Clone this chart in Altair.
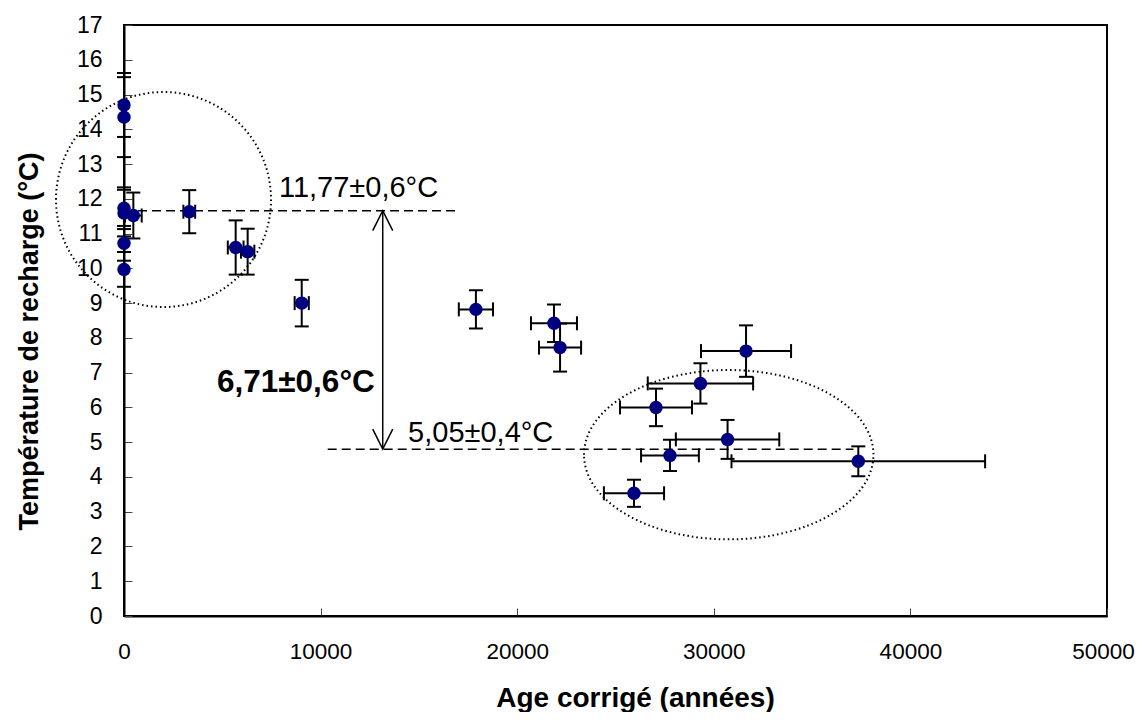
import altair as alt
import pandas as pd

# ---- data ----
age = [0, 0, 0, 0, 0, 0, 475, 3320, 5680, 6290, 9040, 17900, 21870, 22180,
       31640, 29320, 27060, 30700, 27770, 25940, 37350]
age_err = [0, 0, 0, 0, 0, 0, 425, 300, 400, 340, 360, 870, 1170, 1070,
           2290, 2680, 1830, 2630, 1470, 1530, 6450]
temp = [14.70, 14.35, 11.73, 11.59, 10.72, 9.97, 11.52, 11.63, 10.60, 10.48, 9.00,
        8.82, 8.42, 7.72, 7.62, 6.69, 6.00, 5.08, 4.62, 3.53, 4.45]
temp_err = [0.92, 1.15, 0.60, 0.67, 0.50, 0.50, 0.66, 0.62, 0.78, 0.66, 0.67,
            0.55, 0.54, 0.69, 0.74, 0.58, 0.54, 0.56, 0.45, 0.39, 0.43]

x_ticks = [0, 10000, 20000, 30000, 40000, 50000]
y_ticks = list(range(0, 18))

# annotations
mean_lines_x = [0, 10360]
mean_lines_x2 = [16840, 37100]
mean_lines_y = [11.66, 4.80]
arrow_x = 13160
label_text = ["11,77±0,6°C", "5,05±0,4°C"]
label_x = [7880, 14450]
label_y = [12.05, 5.01]
diff_text = "6,71±0,6°C"
diff_x = 4730
diff_y = 6.45
group_x = [2010, 30760]
group_y = [11.98, 4.64]

FONT = "Liberation Sans"

df = pd.DataFrame({"age": age, "age_err": age_err, "temp": temp, "temp_err": temp_err})

xs = alt.Scale(domain=[0, 50000], nice=False, zero=False)
ys = alt.Scale(domain=[0, 17], nice=False, zero=False)
XT = "Age corrigé (années)"
YT = "Température de recharge (°C)"

x_axis = alt.Axis(values=x_ticks, format="d", labelFont=FONT, labelFontSize=22.5,
                  labelColor="black", labelPadding=32, tickSize=alt.ExprRef(expr="-8"),
                  labelOffset={"condition": {"test": "datum.value == 50000", "value": -4}, "value": 0},
                  tickColor="#444", tickWidth=1, domainColor="black", domainWidth=2,
                  grid=False, labelFlush=False, titleFont=FONT, titleFontSize=28,
                  titleFontWeight="bold", titleColor="black", titleX=511, titleY=90,
                  titleBaseline="alphabetic", titleAlign="center")
y_axis = alt.Axis(values=y_ticks, format="d", labelFont=FONT, labelFontSize=23,
                  labelColor="black", labelPadding=30, tickSize=alt.ExprRef(expr="-8"),
                  tickColor="#444", tickWidth=1, domainColor="black", domainWidth=2,
                  grid=False, labelFlush=False, titleFont=FONT, titleFontSize=27,
                  titleFontWeight="bold", titleColor="black", titleX=-87, titleY=316,
                  titleAngle=270, titleBaseline="alphabetic", titleAlign="center")

base = alt.Chart(df).transform_calculate(
    age_lo="datum.age - datum.age_err",
    age_hi="datum.age + datum.age_err",
    t_lo="datum.temp - datum.temp_err",
    t_hi="datum.temp + datum.temp_err",
)

def X(f):
    return alt.X(f, type="quantitative", scale=xs, axis=x_axis, title=XT)

def Y(f):
    return alt.Y(f, type="quantitative", scale=ys, axis=y_axis, title=YT)

vbar = base.mark_rule(color="black", strokeWidth=2).encode(
    x=X("age"), y=Y("t_lo"), y2="t_hi:Q")
vcap_lo = base.mark_tick(orient="horizontal", size=14, thickness=2, color="black", opacity=1).encode(
    x=X("age"), y=Y("t_lo"))
vcap_hi = base.mark_tick(orient="horizontal", size=14, thickness=2, color="black", opacity=1).encode(
    x=X("age"), y=Y("t_hi"))

hbase = base.transform_filter("datum.age_err > 0")
hbar = hbase.mark_rule(color="black", strokeWidth=2).encode(
    x=X("age_lo"), x2="age_hi:Q", y=Y("temp"))
hcap_lo = hbase.mark_tick(orient="vertical", size=14, thickness=2, color="black", opacity=1).encode(
    x=X("age_lo"), y=Y("temp"))
hcap_hi = hbase.mark_tick(orient="vertical", size=14, thickness=2, color="black", opacity=1).encode(
    x=X("age_hi"), y=Y("temp"))

points = alt.Chart(df).mark_point(filled=True, size=180, color="#000080", opacity=1).encode(
    x=X("age"), y=Y("temp"))

lines_df = pd.DataFrame({"x": mean_lines_x, "x2": mean_lines_x2, "y": mean_lines_y})
mean_lines = alt.Chart(lines_df).mark_rule(color="black", strokeWidth=1.5, strokeDash=[9, 5]).encode(
    x=X("x"), x2="x2:Q", y=Y("y"))

arrow_df = pd.DataFrame({"x": [arrow_x], "y": [mean_lines_y[0]], "y2": [mean_lines_y[1]]})
arrow = alt.Chart(arrow_df).mark_rule(color="black", strokeWidth=1.5).encode(
    x=X("x"), y=Y("y"), y2="y2:Q")
head_up = alt.Chart(arrow_df).mark_point(shape="M -0.5 1 L 0 0 L 0.5 1", size=1600, filled=False,
                                         color="black", strokeWidth=1.5, opacity=1).encode(
    x=X("x"), y=Y("y"))
head_down = alt.Chart(arrow_df).mark_point(shape="M -0.5 -1 L 0 0 L 0.5 -1", size=1600, filled=False,
                                           color="black", strokeWidth=1.5, opacity=1).encode(
    x=X("x"), y=Y("y2"))

lab_df = pd.DataFrame({"x": label_x, "y": label_y, "t": label_text})
labels = alt.Chart(lab_df).mark_text(align="left", baseline="alphabetic", font=FONT, fontSize=29,
                                     color="black").encode(x=X("x"), y=Y("y"), text="t:N")
diff_df = pd.DataFrame({"x": [diff_x], "y": [diff_y], "t": [diff_text]})
diff_label = alt.Chart(diff_df).mark_text(align="left", baseline="alphabetic", font=FONT, fontSize=31.5,
                                          fontWeight="bold", color="black").encode(
    x=X("x"), y=Y("y"), text="t:N")

def ellipse_path(k):
    c = 0.5523
    return (f"M -1 0 C -1 {-c*k} {-c} {-k} 0 {-k} C {c} {-k} 1 {-c*k} 1 0 "
            f"C 1 {c*k} {c} {k} 0 {k} C {-c} {k} -1 {c*k} -1 0 Z")

circ_df = pd.DataFrame({"x": [group_x[0]], "y": [group_y[0]]})
circle = alt.Chart(circ_df).mark_point(shape=ellipse_path(1.0), size=215 ** 2, filled=False,
                                       color="black", strokeWidth=2, strokeDash=[1.5, 3],
                                       opacity=1).encode(x=X("x"), y=Y("y"))
ell_df = pd.DataFrame({"x": [group_x[1]], "y": [group_y[1]]})
ellipse = alt.Chart(ell_df).mark_point(shape=ellipse_path(0.585), size=289.4 ** 2, filled=False,
                                       color="black", strokeWidth=2, strokeDash=[1.5, 3],
                                       opacity=1).encode(x=X("x"), y=Y("y"))

chart = alt.layer(
    circle, ellipse, mean_lines, arrow, head_up, head_down,
    vbar, vcap_lo, vcap_hi, hbar, hcap_lo, hcap_hi, points, labels, diff_label,
).properties(
    width=983, height=591,
    autosize=alt.AutoSizeParams(type="none"),
    padding={"left": 116, "top": 17, "right": 29, "bottom": 96},
    background="white",
).configure_view(stroke="black", strokeWidth=2)

chart.save("out.html", embed_options={"renderer": "svg", "actions": False})
